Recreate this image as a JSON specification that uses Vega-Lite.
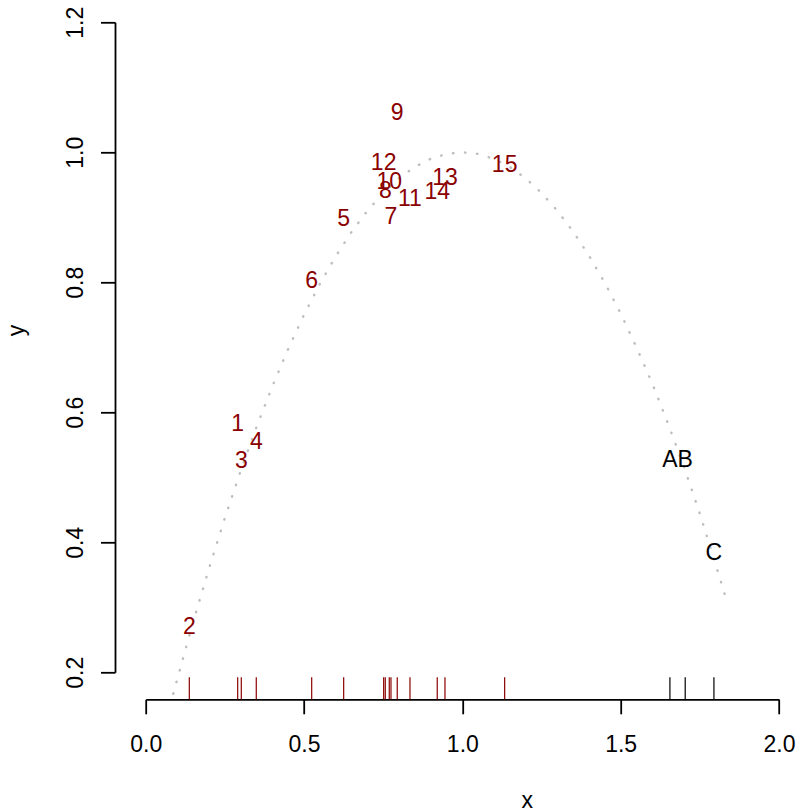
{
  "$schema": "https://vega.github.io/schema/vega-lite/v6.json",
  "autosize": "none",
  "width": 633.3,
  "height": 650,
  "padding": {"left": 145.7, "top": 22.3, "right": 20, "bottom": 137.7},
  "background": "white",
  "config": {
    "view": {"stroke": null},
    "font": "Liberation Sans",
    "axis": {
      "grid": false,
      "domainColor": "#000000",
      "tickColor": "#000000",
      "domainWidth": 1.8,
      "tickWidth": 1.8,
      "tickSize": 14.5,
      "labelFont": "Liberation Sans",
      "labelFontSize": 23,
      "labelColor": "#000000",
      "titleFont": "Liberation Sans",
      "titleFontSize": 23,
      "titleFontWeight": "normal",
      "titleColor": "#000000",
      "labelOverlap": false,
      "labelFlush": false
    }
  },
  "datasets": {
    "curve": [
      {"x": 0.087, "y": 0.167}, {"x": 0.10, "y": 0.19}, {"x": 0.15, "y": 0.2775},
      {"x": 0.20, "y": 0.36}, {"x": 0.25, "y": 0.4375}, {"x": 0.30, "y": 0.51},
      {"x": 0.35, "y": 0.5775}, {"x": 0.40, "y": 0.64}, {"x": 0.45, "y": 0.6975},
      {"x": 0.50, "y": 0.75}, {"x": 0.55, "y": 0.7975}, {"x": 0.60, "y": 0.84},
      {"x": 0.65, "y": 0.8775}, {"x": 0.70, "y": 0.91}, {"x": 0.75, "y": 0.9375},
      {"x": 0.80, "y": 0.96}, {"x": 0.85, "y": 0.9775}, {"x": 0.90, "y": 0.99},
      {"x": 0.95, "y": 0.9975}, {"x": 1.00, "y": 1.0}, {"x": 1.05, "y": 0.9975},
      {"x": 1.10, "y": 0.99}, {"x": 1.15, "y": 0.9775}, {"x": 1.20, "y": 0.96},
      {"x": 1.25, "y": 0.9375}, {"x": 1.30, "y": 0.91}, {"x": 1.35, "y": 0.878},
      {"x": 1.40, "y": 0.841}, {"x": 1.45, "y": 0.799}, {"x": 1.50, "y": 0.752},
      {"x": 1.55, "y": 0.700}, {"x": 1.60, "y": 0.644}, {"x": 1.65, "y": 0.582},
      {"x": 1.70, "y": 0.516}, {"x": 1.75, "y": 0.444}, {"x": 1.80, "y": 0.366},
      {"x": 1.838, "y": 0.305}
    ],
    "pts": [
      {"label": "1", "x": 0.2905, "y": 0.582, "grp": "num"},
      {"label": "2", "x": 0.1377, "y": 0.2702, "grp": "num"},
      {"label": "3", "x": 0.3019, "y": 0.5255, "grp": "num"},
      {"label": "4", "x": 0.3492, "y": 0.5548, "grp": "num"},
      {"label": "5", "x": 0.6252, "y": 0.8969, "grp": "num"},
      {"label": "6", "x": 0.5242, "y": 0.802, "grp": "num"},
      {"label": "7", "x": 0.7746, "y": 0.9009, "grp": "num"},
      {"label": "8", "x": 0.7566, "y": 0.9405, "grp": "num"},
      {"label": "9", "x": 0.7944, "y": 1.0609, "grp": "num"},
      {"label": "10", "x": 0.7692, "y": 0.9538, "grp": "num"},
      {"label": "11", "x": 0.8346, "y": 0.9277, "grp": "num"},
      {"label": "12", "x": 0.7515, "y": 0.9831, "grp": "num"},
      {"label": "13", "x": 0.9451, "y": 0.960, "grp": "num"},
      {"label": "14", "x": 0.9207, "y": 0.9385, "grp": "num"},
      {"label": "15", "x": 1.1336, "y": 0.9805, "grp": "num"},
      {"label": "A", "x": 1.6555, "y": 0.5266, "grp": "letter"},
      {"label": "B", "x": 1.7038, "y": 0.5266, "grp": "letter"},
      {"label": "C", "x": 1.7945, "y": 0.384, "grp": "letter"}
    ]
  },
  "layer": [
    {
      "data": {"name": "curve"},
      "mark": {"type": "line", "color": "#BEBEBE", "strokeWidth": 2.4, "strokeCap": "round", "strokeDash": [0.5, 11.6]},
      "encoding": {
        "x": {"field": "x", "type": "quantitative", "scale": {"domain": [0, 2], "nice": false, "zero": false},
          "axis": {"values": [0, 0.5, 1, 1.5, 2], "format": ".1f", "offset": 27, "labelPadding": 19.5,
            "title": "x", "titleX": 381, "titleY": 107.7, "titleBaseline": "alphabetic", "titleAlign": "center", "titleAnchor": null}},
        "y": {"field": "y", "type": "quantitative", "scale": {"domain": [0.2, 1.2], "nice": false, "zero": false},
          "axis": {"values": [0.2, 0.4, 0.6, 0.8, 1.0, 1.2], "format": ".1f", "offset": 30.7, "labelAngle": -90,
            "labelAlign": "center", "labelBaseline": "alphabetic", "labelPadding": 18.2,
            "title": "y", "titleAngle": -90, "titleX": -91.5, "titleY": 307.7, "titleBaseline": "alphabetic", "titleAlign": "center"}}
      }
    },
    {
      "data": {"name": "pts"},
      "mark": {"type": "rule", "strokeWidth": 1.2},
      "encoding": {
        "x": {"field": "x", "type": "quantitative"},
        "y": {"datum": 0.1585},
        "y2": {"datum": 0.1923},
        "color": {"field": "grp", "type": "nominal", "scale": {"domain": ["num", "letter"], "range": ["#8B0000", "#000000"]}, "legend": null}
      }
    },
    {
      "data": {"name": "pts"},
      "mark": {"type": "text", "font": "Liberation Sans", "fontSize": 23, "align": "center", "baseline": "middle"},
      "encoding": {
        "x": {"field": "x", "type": "quantitative"},
        "y": {"field": "y", "type": "quantitative"},
        "text": {"field": "label", "type": "nominal"},
        "color": {"field": "grp", "type": "nominal", "scale": {"domain": ["num", "letter"], "range": ["#8B0000", "#000000"]}, "legend": null}
      }
    }
  ]
}
